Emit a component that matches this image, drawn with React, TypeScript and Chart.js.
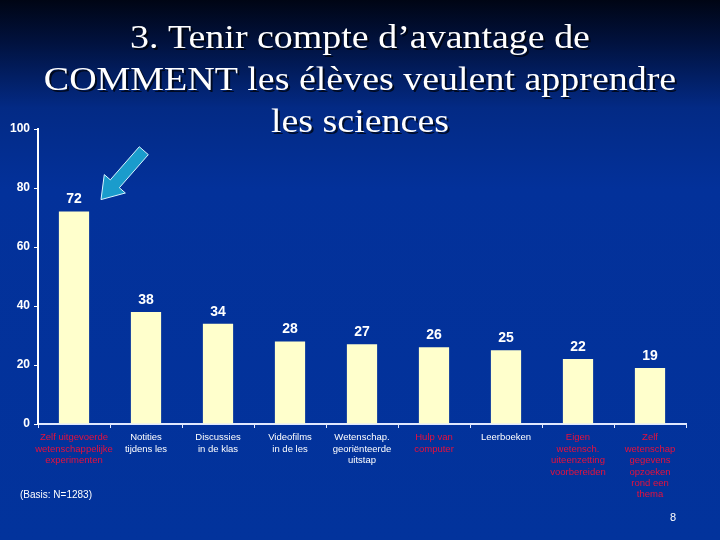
import React, { useEffect, useRef } from "react";
import { Chart, registerables } from "chart.js";

Chart.register(...registerables);

const categories: string[][] = [
  ["Zelf uitgevoerde", "wetenschappelijke", "experimenten"],
  ["Notities", "tijdens les"],
  ["Discussies", "in de klas"],
  ["Videofilms", "in de les"],
  ["Wetenschap.", "georiënteerde", "uitstap"],
  ["Hulp van", "computer"],
  ["Leerboeken"],
  ["Eigen", "wetensch.", "uiteenzetting", "voorbereiden"],
  ["Zelf", "wetenschap", "gegevens", "opzoeken", "rond een", "thema"],
];
const values: number[] = [72, 38, 34, 28, 27, 26, 25, 22, 19];
const highlighted: boolean[] = [true, false, false, false, false, true, false, true, true];
const titleLines: string[] = [
  "3. Tenir compte d’avantage de",
  "COMMENT les élèves veulent apprendre",
  "les sciences",
];
const basisNote = "(Basis: N=1283)";
const pageNumber = "8";

const RED = "#e8103c";
const WHITE = "#ffffff";

const decorPlugin = {
  id: "decor",
  beforeDraw(chart: any) {
    const { ctx, width, height } = chart;
    ctx.save();
    const g = ctx.createLinearGradient(0, 0, 0, height);
    g.addColorStop(0, "#000514");
    g.addColorStop(0.08, "#01123f");
    g.addColorStop(0.2, "#032a85");
    g.addColorStop(0.35, "#03319a");
    g.addColorStop(1, "#02339c");
    ctx.fillStyle = g;
    ctx.fillRect(0, 0, width, height);
    ctx.restore();
  },
  afterDraw(chart: any) {
    const { ctx, width } = chart;
    ctx.save();
    // title
    ctx.fillStyle = WHITE;
    ctx.textAlign = "center";
    ctx.textBaseline = "alphabetic";
    ctx.font = "33px 'Liberation Serif', 'DejaVu Serif', serif";
    ctx.shadowColor = "rgba(0,0,0,0.7)";
    ctx.shadowOffsetX = 2;
    ctx.shadowOffsetY = 2;
    const baselines = [48, 90, 132];
    titleLines.forEach((t, i) => {
      ctx.save();
      ctx.translate(width / 2, baselines[i]);
      ctx.scale(1.15, 1);
      ctx.fillText(t, 0, 0);
      ctx.restore();
    });
    ctx.shadowColor = "transparent";
    ctx.shadowOffsetX = 0;
    ctx.shadowOffsetY = 0;

    // value labels
    const meta = chart.getDatasetMeta(0);
    ctx.font = "bold 14px 'Liberation Sans', Arial, sans-serif";
    ctx.textBaseline = "bottom";
    meta.data.forEach((bar: any, i: number) => {
      ctx.fillText(String(values[i]), bar.x, bar.y - 5);
    });

    // arrow pointing at first bar label
    const b0 = meta.data[0];
    const tipX = b0.x + 27;
    const tipY = b0.y - 12;
    const ang = Math.atan2(-48, 42); // direction from tip to tail
    const len = 65, headLen = 21, headW = 14, shaftW = 6;
    const ux = Math.cos(ang), uy = Math.sin(ang);
    const px = -uy, py = ux;
    const pt = (a: number, b: number) => [tipX + ux * a + px * b, tipY + uy * a + py * b];
    const pts = [
      pt(0, 0),
      pt(headLen, headW),
      pt(headLen, shaftW),
      pt(len, shaftW),
      pt(len, -shaftW),
      pt(headLen, -shaftW),
      pt(headLen, -headW),
    ];
    ctx.beginPath();
    pts.forEach((p, i) => (i === 0 ? ctx.moveTo(p[0], p[1]) : ctx.lineTo(p[0], p[1])));
    ctx.closePath();
    ctx.fillStyle = "#1a9ccc";
    ctx.fill();
    ctx.strokeStyle = "#d8f4ff";
    ctx.lineWidth = 1;
    ctx.stroke();

    // notes
    ctx.fillStyle = WHITE;
    ctx.textAlign = "left";
    ctx.textBaseline = "middle";
    ctx.font = "10px 'Liberation Sans', Arial, sans-serif";
    ctx.fillText(basisNote, 20, 495);
    ctx.textAlign = "center";
    ctx.font = "11px 'Liberation Sans', Arial, sans-serif";
    ctx.fillText(pageNumber, 673, 518);
    ctx.restore();
  },
};

export default function App() {
  const ref = useRef<HTMLCanvasElement | null>(null);
  useEffect(() => {
    if (!ref.current) return;
    const chart = new Chart(ref.current, {
      type: "bar",
      data: {
        labels: categories,
        datasets: [
          {
            data: values,
            backgroundColor: "#ffffcc",
            borderWidth: 0,
            barPercentage: 0.42,
            categoryPercentage: 1,
          },
        ],
      },
      options: {
        animation: false,
        responsive: false,
        maintainAspectRatio: false,
        layout: { padding: { left: 0, right: 34, top: 129, bottom: 0 } },
        plugins: {
          legend: { display: false },
          tooltip: { enabled: false },
          title: { display: false },
        },
        scales: {
          x: {
            grid: {
              display: true,
              drawOnChartArea: false,
              drawTicks: true,
              tickLength: 4,
              color: "#e0e8ff",
              offset: true,
            },
            border: { color: "#e0e8ff", width: 2 },
            ticks: {
              color: (c: any) => (highlighted[c.index] ? RED : WHITE),
              font: { family: "'Liberation Sans', Arial, sans-serif", size: 9.5 },
              padding: 4,
              maxRotation: 0,
              minRotation: 0,
              autoSkip: false,
            },
            afterFit: (s: any) => {
              s.height = 116;
            },
          },
          y: {
            min: 0,
            max: 100,
            grid: {
              display: true,
              drawOnChartArea: false,
              drawTicks: true,
              tickLength: 4,
              color: "#ffffff",
            },
            border: { color: "#ffffff", width: 2 },
            ticks: {
              stepSize: 20,
              color: WHITE,
              font: { family: "'Liberation Sans', Arial, sans-serif", size: 12, weight: "bold" },
              padding: 4,
            },
            afterFit: (s: any) => {
              s.width = 38;
            },
          },
        },
      },
      plugins: [decorPlugin],
    } as any);
    return () => chart.destroy();
  }, []);
  return (
    <div style={{ position: "fixed", left: 0, top: 0, width: 720, height: 540 }}>
      <canvas ref={ref} width={720} height={540} style={{ width: 720, height: 540, display: "block" }} />
    </div>
  );
}
